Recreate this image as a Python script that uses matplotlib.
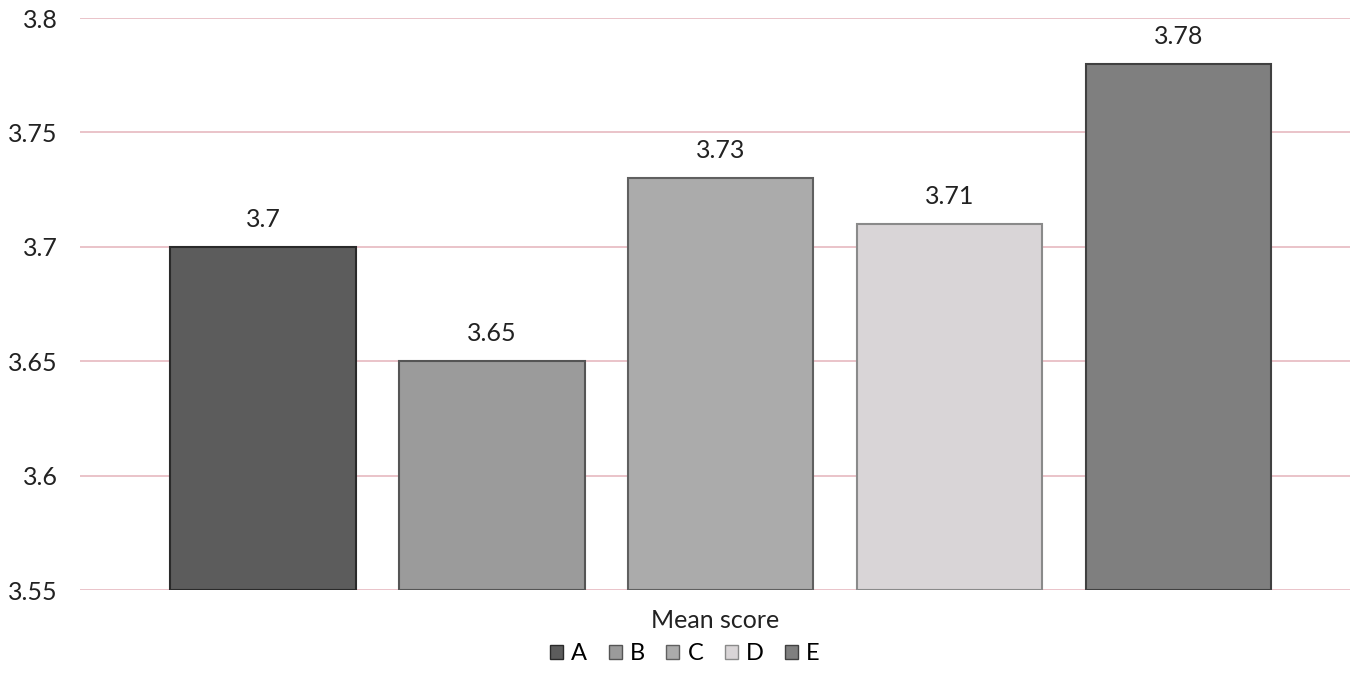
import matplotlib
matplotlib.use("Agg")
import matplotlib.pyplot as plt
from matplotlib.patches import Patch

plt.rcParams['font.family'] = ['Lato', 'DejaVu Sans']

series = ['A', 'B', 'C', 'D', 'E']
values = [3.70, 3.65, 3.73, 3.71, 3.78]
labels = ['3.7', '3.65', '3.73', '3.71', '3.78']
category = 'Mean score'
yticks = [3.55, 3.6, 3.65, 3.7, 3.75, 3.8]
colors = ['#5c5c5c', '#9b9b9b', '#ababab', '#d9d5d7', '#7f7f7f']
edges = ['#2a2a2a', '#555555', '#606060', '#8a8a8a', '#404040']

fig = plt.figure(figsize=(13.61, 6.95), dpi=100)
ax = fig.add_axes([0.0588, 0.151, 0.933, 0.823])

base = 3.55
for i, (v, c, e) in enumerate(zip(values, colors, edges)):
    ax.bar(i, v - base, bottom=base, width=0.81, color=c, edgecolor=e,
           linewidth=1.5, zorder=3)
    ax.text(i, v + 0.007, labels[i], ha='center', va='bottom', fontsize=18,
            color='#222222', zorder=4)

ax.set_ylim(3.55, 3.8)
ax.set_xlim(-0.8, 4.75)
ax.set_yticks(yticks)
ax.set_yticklabels([f'{t:g}' for t in yticks], fontsize=18, color='#222222')
ax.tick_params(axis='y', length=0, pad=16)
ax.set_xticks([])
ax.grid(axis='y', color='#e6b9c0', linewidth=1.2, zorder=0)
for s in ax.spines.values():
    s.set_visible(False)

ax.set_xlabel(category, fontsize=18, color='#222222', labelpad=14)

handles = [Patch(facecolor=c, edgecolor=e, label=s) for s, c, e in zip(series, colors, edges)]
fig.legend(handles=handles, loc='center', bbox_to_anchor=(685 / 1361, 1 - 654 / 695),
           ncol=5, frameon=False, fontsize=17, handlelength=0.55, handleheight=0.55,
           handletextpad=0.35, columnspacing=0.9)

fig.savefig('out.png', dpi=100, facecolor='white')
